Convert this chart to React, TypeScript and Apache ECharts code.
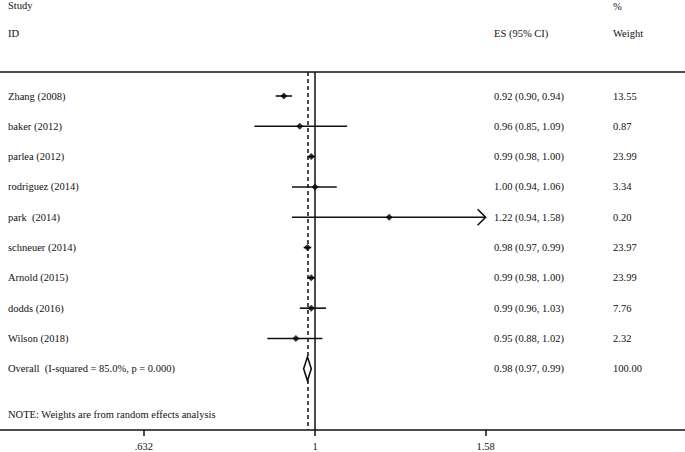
import React, { useEffect, useRef } from "react";
import * as echarts from "echarts";

const studies = [
  "Zhang (2008)",
  "baker (2012)",
  "parlea (2012)",
  "rodriguez (2014)",
  "park  (2014)",
  "schneuer (2014)",
  "Arnold (2015)",
  "dodds (2016)",
  "Wilson (2018)",
];
const es = [0.92, 0.96, 0.99, 1.0, 1.22, 0.98, 0.99, 0.99, 0.95];
const lower = [0.9, 0.85, 0.98, 0.94, 0.94, 0.97, 0.98, 0.96, 0.88];
const upper = [0.94, 1.09, 1.0, 1.06, 1.58, 0.99, 1.0, 1.03, 1.02];
const weights = ["13.55", "0.87", "23.99", "3.34", "0.20", "23.97", "23.99", "7.76", "2.32"];

const overallLabel = "Overall  (I-squared = 85.0%, p = 0.000)";
const overallEs = 0.98;
const overallLower = 0.97;
const overallUpper = 0.99;
const overallWeight = "100.00";

const tickValues = [0.632, 1, 1.58];
const tickLabels = [".632", "1", "1.58"];
const noteText = "NOTE: Weights are from random effects analysis";

const FONT = "'Liberation Serif', 'Times New Roman', serif";
const FS = 10.5;
const INK = "#111";

const fmt = (v: number) => v.toFixed(2);

export default function App() {
  const ref = useRef<HTMLDivElement>(null);

  useEffect(() => {
    if (!ref.current) return;
    const chart = echarts.init(ref.current, undefined, { renderer: "svg" });

    const displayMax = Math.log(tickValues[tickValues.length - 1]);
    const displayMin = Math.log(tickValues[0]);

    const rows = studies.map((s, i) => ({
      idx: i,
      label: s,
      es: es[i],
      lo: lower[i],
      hi: upper[i],
      w: weights[i],
    }));
    const overallIdx = studies.length;

    const ciData = rows.map((r) => [Math.log(r.lo), Math.log(r.hi), r.idx]);
    const pointData = rows.map((r) => [Math.log(r.es), r.idx]);
    const textData = [
      ...rows.map((r) => [r.idx, r.label, `${fmt(r.es)} (${fmt(r.lo)}, ${fmt(r.hi)})`, r.w]),
      [overallIdx, overallLabel, `${fmt(overallEs)} (${fmt(overallLower)}, ${fmt(overallUpper)})`, overallWeight],
    ];

    const textStyle = { fontFamily: FONT, fontSize: FS, fill: INK };

    chart.setOption({
      animation: false,
      backgroundColor: "#fff",
      grid: { left: 0, right: 0, top: 72, bottom: 22, containLabel: false },
      xAxis: [
        {
          type: "value",
          position: "bottom",
          min: -315 / 373,
          max: 370 / 373,
          splitLine: { show: false },
          axisLine: { show: true, onZero: false, lineStyle: { color: INK, width: 1.5 } },
          axisTick: {
            show: true,
            length: 6,
            customValues: tickValues.map((v) => Math.log(v)),
            lineStyle: { color: INK, width: 1.5 },
          },
          axisLabel: {
            show: true,
            margin: 11,
            customValues: tickValues.map((v) => Math.log(v)),
            fontFamily: FONT,
            fontSize: FS,
            color: INK,
            formatter: (v: number) => {
              let best = 0;
              let d = Infinity;
              tickValues.forEach((t, i) => {
                const dd = Math.abs(Math.log(t) - v);
                if (dd < d) {
                  d = dd;
                  best = i;
                }
              });
              return tickLabels[best];
            },
          },
        },
        {
          type: "value",
          position: "top",
          min: -315 / 373,
          max: 370 / 373,
          splitLine: { show: false },
          axisLine: { show: true, onZero: false, lineStyle: { color: INK, width: 1.5 } },
          axisTick: { show: false },
          axisLabel: { show: false },
        },
      ],
      yAxis: {
        type: "value",
        inverse: true,
        min: -0.792,
        max: 11.02,
        show: false,
        splitLine: { show: false },
      },
      graphic: [
        { type: "text", left: 8, top: 0, style: { text: "Study", ...textStyle } },
        { type: "text", left: 8, top: 28, style: { text: "ID", ...textStyle } },
        { type: "text", left: 494, top: 28, style: { text: "ES (95% CI)", ...textStyle } },
        { type: "text", left: 613, top: 1, style: { text: "%", ...textStyle } },
        { type: "text", left: 613, top: 28, style: { text: "Weight", ...textStyle } },
        { type: "text", left: 8, top: 409, style: { text: noteText, ...textStyle } },
      ],
      series: [
        {
          type: "custom",
          name: "ci",
          clip: false,
          data: ciData,
          encode: { x: [0, 1], y: 2 },
          renderItem: (params: any, api: any) => {
            const lo = Math.max(api.value(0), displayMin);
            const hiRaw = api.value(1);
            const clipped = hiRaw >= displayMax - 1e-9;
            const hi = Math.min(hiRaw, displayMax);
            const y = api.value(2);
            const p1 = api.coord([lo, y]);
            const p2 = api.coord([hi, y]);
            const children: any[] = [
              {
                type: "line",
                shape: { x1: p1[0], y1: p1[1], x2: p2[0], y2: p2[1] },
                style: { stroke: INK, lineWidth: 1.6 },
              },
            ];
            if (clipped) {
              children.push({
                type: "polyline",
                shape: {
                  points: [
                    [p2[0] - 8, p2[1] - 8],
                    [p2[0], p2[1]],
                    [p2[0] - 8, p2[1] + 8],
                  ],
                },
                style: { stroke: INK, lineWidth: 1.6, fill: "none" },
              });
            }
            return { type: "group", children };
          },
          z: 3,
        },
        {
          type: "scatter",
          name: "es",
          data: pointData,
          symbol: "diamond",
          symbolSize: 7,
          itemStyle: { color: "#000" },
          z: 4,
          markLine: {
            silent: true,
            symbol: "none",
            label: { show: false },
            data: [
              { xAxis: Math.log(1), lineStyle: { color: INK, width: 1.5, type: "solid" } },
              {
                xAxis: Math.log(overallEs),
                lineStyle: { color: INK, width: 1.5, type: [4, 3] },
              },
            ],
          },
        },
        {
          type: "custom",
          name: "overall",
          clip: false,
          data: [[Math.log(overallLower), Math.log(overallEs), Math.log(overallUpper), overallIdx]],
          renderItem: (params: any, api: any) => {
            const y = api.value(3);
            const l = api.coord([api.value(0), y]);
            const c = api.coord([api.value(1), y]);
            const r = api.coord([api.value(2), y]);
            const h = 12;
            return {
              type: "polygon",
              shape: {
                points: [
                  [l[0], l[1]],
                  [c[0], c[1] - h],
                  [r[0], r[1]],
                  [c[0], c[1] + h],
                ],
              },
              style: { stroke: INK, lineWidth: 1.6, fill: "#fff" },
            };
          },
          z: 5,
        },
        {
          type: "custom",
          name: "texts",
          clip: false,
          data: textData,
          renderItem: (params: any, api: any) => {
            const idx = api.value(0);
            const y = api.coord([0, idx])[1];
            const d = textData[params.dataIndex];
            return {
              type: "group",
              children: [
                { type: "text", x: 8, y, style: { text: d[1], ...textStyle, verticalAlign: "middle" } },
                { type: "text", x: 494, y, style: { text: d[2], ...textStyle, verticalAlign: "middle" } },
                { type: "text", x: 613, y, style: { text: d[3], ...textStyle, verticalAlign: "middle" } },
              ],
            };
          },
          z: 6,
        },
      ],
    });

    return () => chart.dispose();
  }, []);

  return (
    <div
      ref={ref}
      style={{ position: "fixed", left: 0, top: 0, width: 685, height: 452, background: "#fff" }}
    />
  );
}
